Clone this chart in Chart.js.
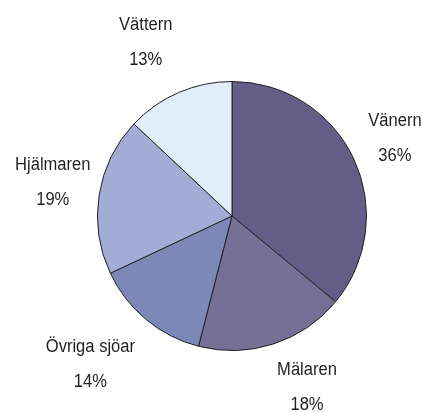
<!DOCTYPE html>
<html>
<head>
<meta charset="utf-8">
<script src="https://cdn.jsdelivr.net/npm/chart.js@4"></script>
<style>
html,body{margin:0;padding:0;background:#fff;}
#wrap{width:423px;height:412px;position:relative;}
</style>
</head>
<body>
<div id="wrap"><canvas id="c" width="423" height="412"></canvas></div>
<script>
const categories = ["Vänern", "Mälaren", "Övriga sjöar", "Hjälmaren", "Vättern"];
const shares = [36, 18, 14, 19, 13];
const colors = ["#635d88", "#767096", "#7b88b8", "#a2acd4", "#e1eef9"];
const labelNudge = [[-4, 1], [18, -4], [-24, 6], [3, -5], [-13, -4]];

const outsideLabels = {
  id: 'outsideLabels',
  afterDatasetsDraw(chart) {
    const ctx = chart.ctx;
    const meta = chart.getDatasetMeta(0);
    const data = chart.data.datasets[0].data;
    ctx.save();
    ctx.fillStyle = '#231f20';
    ctx.textAlign = 'center';
    ctx.textBaseline = 'middle';
    ctx.font = '18px "Liberation Sans", Arial, sans-serif';
    meta.data.forEach((arc, i) => {
      const p = arc.getProps(['x', 'y', 'startAngle', 'endAngle', 'outerRadius'], true);
      const mid = (p.startAngle + p.endAngle) / 2;
      const d = p.outerRadius + 50;
      const cx = p.x + Math.cos(mid) * d + labelNudge[i][0];
      const cy = p.y + Math.sin(mid) * d + labelNudge[i][1];
      const lines = [chart.data.labels[i], data[i] + '%'];
      lines.forEach((t, k) => {
        ctx.save();
        ctx.translate(cx, cy + (k === 0 ? -17.5 : 17.5));
        ctx.scale(0.92, 1);
        ctx.fillText(t, 0, 0);
        ctx.restore();
      });
    });
    ctx.restore();
  }
};

new Chart(document.getElementById('c'), {
  type: 'pie',
  data: {
    labels: categories,
    datasets: [{
      data: shares,
      backgroundColor: colors,
      borderColor: '#222222',
      borderWidth: 1
    }]
  },
  options: {
    responsive: false,
    animation: false,
    layout: { padding: { left: 97, right: 56, top: 81, bottom: 61 } },
    plugins: {
      legend: { display: false },
      tooltip: { enabled: false }
    }
  },
  plugins: [outsideLabels]
});
</script>
</body>
</html>
